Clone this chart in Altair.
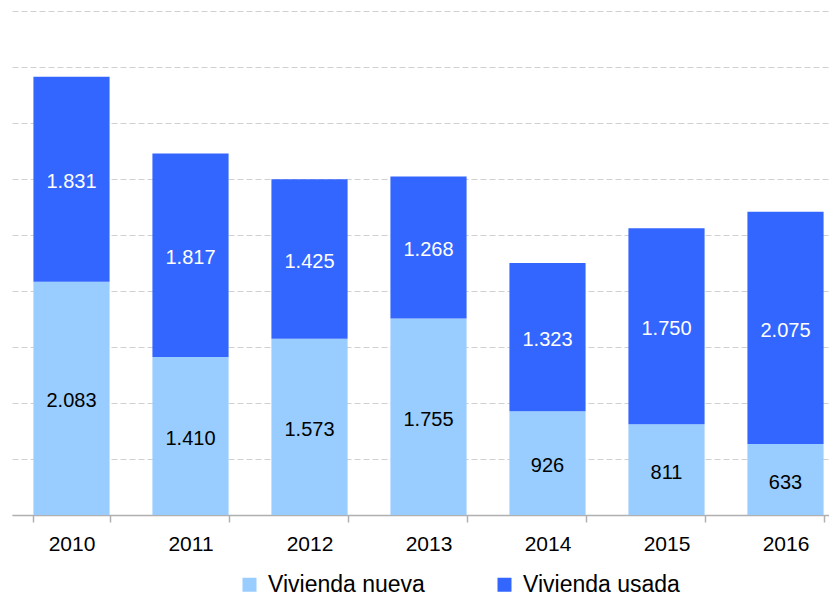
import altair as alt
import pandas as pd

years = ["2010", "2011", "2012", "2013", "2014", "2015", "2016"]
nueva = [2083, 1410, 1573, 1755, 926, 811, 633]
usada = [1831, 1817, 1425, 1268, 1323, 1750, 2075]
series = ["Vivienda nueva", "Vivienda usada"]
colors = ["#99CCFF", "#3366FF"]
text_colors = ["#000000", "#FFFFFF"]

rows = []
for i, y in enumerate(years):
    for k, (s, vals) in enumerate(zip(series, [nueva, usada])):
        v = vals[i]
        rows.append({"year": y, "serie": s, "value": v, "ord": k,
                     "label": f"{v:,}".replace(",", "."), "tcolor": text_colors[k]})
df = pd.DataFrame(rows)

FONT = "Liberation Sans"

base = alt.Chart(df).transform_stack(
    stack="value", groupby=["year"], as_=["v0", "v1"],
    sort=[alt.SortField("ord", order="ascending")]
).transform_calculate(mid="(datum.v0 + datum.v1) / 2")

xenc = alt.X("year:N", title=None,
             scale=alt.Scale(range=[0, 833], paddingInner=0.36, paddingOuter=0.18),
             axis=alt.Axis(labelAngle=0, labelFont=FONT, labelFontSize=21, labelColor="#000",
                           labelPadding=11, tickSize=7, tickColor="#B0B0B0", tickWidth=1.5,
                           domainColor="#B0B0B0", domainWidth=1.5, tickBand="extent", grid=False))

bars = base.mark_bar().encode(
    x=xenc,
    y=alt.Y("v0:Q", title=None,
            scale=alt.Scale(domain=[0, 4500]),
            axis=alt.Axis(values=list(range(0, 4501, 500)), labels=False, ticks=False,
                          domain=False, grid=True, gridColor="#D0D0D0", gridDash=[6, 3],
                          gridWidth=1.2)),
    y2="v1:Q",
    color=alt.Color("serie:N", title=None,
                    scale=alt.Scale(domain=series, range=colors),
                    legend=alt.Legend(orient="none", legendX=226, legendY=562,
                                      direction="horizontal", symbolType="square",
                                      symbolSize=196, symbolStrokeWidth=0,
                                      labelFont=FONT, labelFontSize=23, labelColor="#000",
                                      labelOffset=7, columnPadding=68, labelLimit=300)),
)

texts = base.mark_text(font=FONT, fontSize=20, dy=3).encode(
    x=alt.X("year:N"),
    y=alt.Y("mid:Q"),
    text="label:N",
    color=alt.Color("tcolor:N", scale=None, legend=None),
)

chart = (bars + texts).properties(
    width=817, height=504,
    autosize=alt.AutoSizeParams(type="none"),
    padding={"left": 4, "top": 3, "right": 0, "bottom": 84},
).configure_view(stroke=None)

chart.save("out.html", embed_options={"renderer": "svg", "actions": False})
